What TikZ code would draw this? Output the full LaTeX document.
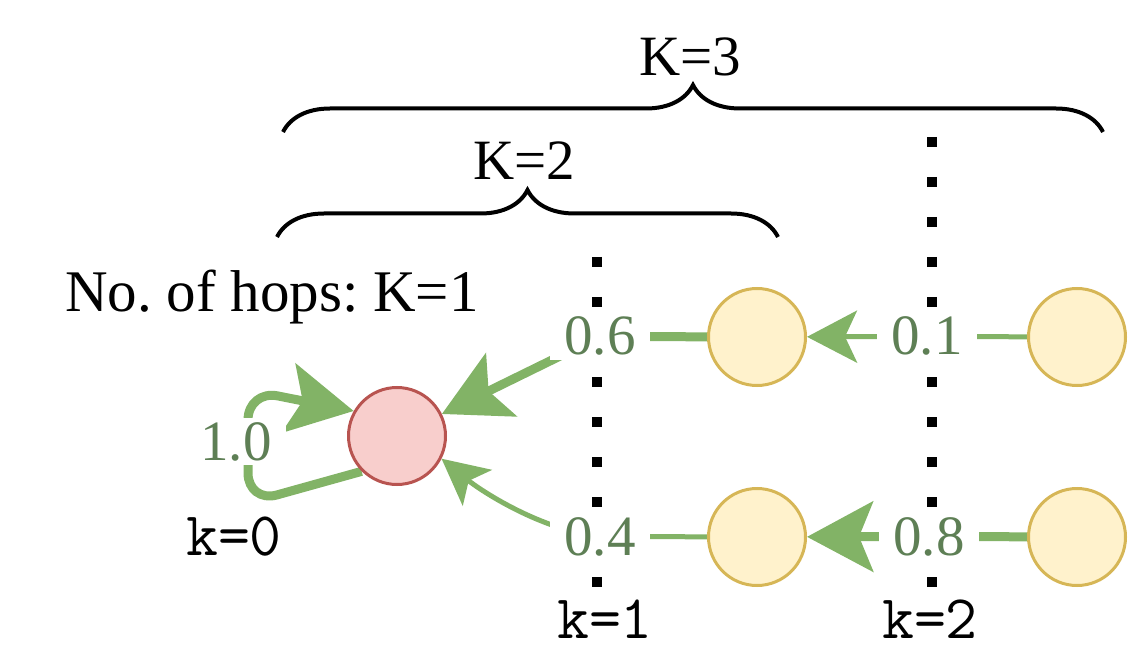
\documentclass[tikz,border=0pt]{standalone}
\usepackage{fontspec}
\setmainfont{Liberation Serif}
\usetikzlibrary{arrows.meta,decorations.pathreplacing}
\definecolor{arrowgreen}{HTML}{82B366}
\definecolor{labelgreen}{HTML}{5E7F55}
\definecolor{redfill}{HTML}{F8CECC}
\definecolor{redline}{HTML}{B85450}
\definecolor{yelfill}{HTML}{FFF2CC}
\definecolor{yelline}{HTML}{D6B656}
\pgfdeclarelayer{bg}
\pgfsetlayers{bg,main}
\frenchspacing
\begin{document}
\begin{tikzpicture}[x=1pt,y=-1pt,
  every node/.style={font=\fontsize{57}{60}\selectfont},
  hop/.style={circle, line width=3pt, minimum size=97pt, inner sep=0pt},
  target/.style={hop, draw=redline, fill=redfill},
  neigh/.style={hop, draw=yelline, fill=yelfill},
  weight/.style={text=labelgreen, fill=white, anchor=base, inner xsep=14pt, inner ysep=4pt},
  plain/.style={anchor=base, inner sep=0pt},
  mono/.style={plain, font=\ttfamily\fontsize{62}{64}\selectfont},
  thinedge/.style={draw=arrowgreen, line width=5pt},
  thickedge/.style={draw=arrowgreen, line width=9pt},
  bigtip/.style={-{Stealth[length=66pt,width=70pt,inset=14pt]}},
  smalltip/.style={-{Stealth[length=50pt,width=52pt,inset=12pt]}},
  curvetip/.style={-{Stealth[length=46pt,width=46pt,inset=11pt]}},
  hopline/.style={line width=10pt, dash pattern=on 10pt off 30pt},
  kbrace/.style={line width=4pt, decorate, decoration={brace, amplitude=47pt}},
]
\useasboundingbox (0,0) rectangle (1130,660);

% nodes
\node[target] (R) at (397,436) {};
\node[neigh] (A) at (757,337) {};
\node[neigh] (B) at (1077,337) {};
\node[neigh] (C) at (757,537) {};
\node[neigh] (D) at (1077,537) {};

% weight labels
\node[weight] (l06) at (600,355) {0.6};
\node[weight] (l04) at (600,555) {0.4};
\node[weight] (l01) at (927,355) {0.1};
\node[weight] (l08) at (929,555) {0.8};
\node[weight] (l10) at (236,460) {1.0};

% texts
\node[plain] (k3) at (690,76) {K=3};
\node[plain] (k2) at (524,180) {K=2};
\node[plain, anchor=base west, font=\fontsize{59}{62}\selectfont] (hops) at (65,312) {No.\ of hops: K=1};
\node[mono] (k0) at (234,555) {k=0};
\node[mono] (k1) at (605,638) {k=1};
\node[mono] (kk2) at (930,638) {k=2};

% braces
\draw[kbrace] (283,132) -- (1103,132);
\draw[kbrace] (277,237) -- (778,237);

\begin{pgfonlayer}{bg}
  \draw[hopline] (597,257) -- (597,587);
  \draw[hopline] (932,137) -- (932,587);

  \draw[thickedge] (A) -- (l06.center);
  \draw[thickedge, bigtip] (l06.center) -- (R);
  \draw[thinedge] (C) -- (l04.center);
  \draw[thinedge, curvetip] (l04.center) .. controls (540,530) and (480,490) .. (R.-27);
  \draw[thinedge] (B) -- (l01.center);
  \draw[thinedge, smalltip] (l01.center) -- (A);
  \draw[thickedge] (D) -- (l08.center);
  \draw[thickedge, bigtip] (l08.center) -- (C);
  \draw[thickedge, bigtip, rounded corners=30pt] (R.225) -- (248,503) -- (248,390) -- (R.150);
\end{pgfonlayer}
\end{tikzpicture}
\end{document}
